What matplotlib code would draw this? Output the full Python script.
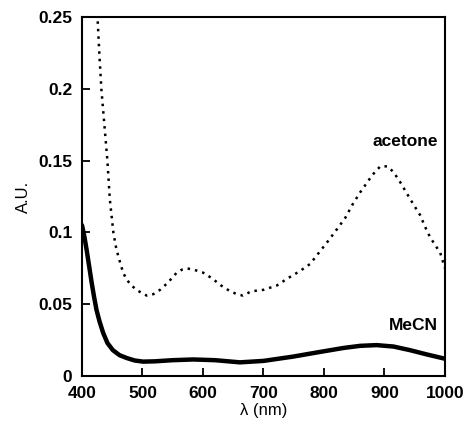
import matplotlib
matplotlib.use("Agg")
import matplotlib.pyplot as plt

plt.rcParams['font.family'] = ['Liberation Sans', 'DejaVu Sans']

# acetone spectrum (dotted)
acetone_x = [426, 429, 432, 437, 442, 446, 452, 457, 463, 468, 474, 482, 490, 498, 507, 518,
             529, 542, 556, 565, 573, 585, 600, 615, 630, 645, 656, 666, 680, 700, 722, 740,
             760, 777, 790, 805, 821, 835, 848, 860, 870, 880, 893, 905, 915, 926,
             940, 950, 959, 967, 975, 984, 992, 1000]
acetone_y = [0.247, 0.222, 0.200, 0.175, 0.150, 0.123, 0.0995, 0.088, 0.079, 0.072, 0.067,
             0.063, 0.060, 0.058, 0.056, 0.057, 0.060, 0.065, 0.0717, 0.074, 0.075, 0.074,
             0.072, 0.068, 0.063, 0.059, 0.057, 0.056, 0.059, 0.060, 0.063, 0.068, 0.073,
             0.078, 0.085, 0.093, 0.102, 0.110, 0.120, 0.128, 0.134, 0.140, 0.146, 0.146,
             0.142, 0.135, 0.125, 0.118, 0.112, 0.104, 0.097, 0.091, 0.086, 0.075]

# MeCN spectrum (solid)
mecn_x = [400, 404, 408, 412, 416, 420, 424, 429, 435, 442, 451, 462, 474, 487, 501,
          520, 550, 584, 620, 661, 700, 749, 790, 832, 860, 887, 915, 942, 970, 1000]
mecn_y = [0.105, 0.097, 0.087, 0.076, 0.065, 0.055, 0.046, 0.038, 0.030, 0.023, 0.018,
          0.0145, 0.0125, 0.0108, 0.0100, 0.0102, 0.011, 0.0115, 0.011, 0.0095,
          0.0105, 0.0135, 0.0165, 0.0195, 0.021, 0.0215, 0.0205, 0.018, 0.015, 0.012]

x_ticks = [400, 500, 600, 700, 800, 900, 1000]
y_ticks = [0, 0.05, 0.1, 0.15, 0.2, 0.25]
y_tick_labels = ['0', '0.05', '0.1', '0.15', '0.2', '0.25']

fig = plt.figure(figsize=(4.64, 4.38), dpi=100)
ax = fig.add_axes([0.1767, 0.1416, 0.7823, 0.8195])

ax.plot(mecn_x, mecn_y, color='black', linewidth=3.2, solid_capstyle='round',
        solid_joinstyle='round')
ax.plot(acetone_x, acetone_y, color='black', linewidth=1.8, linestyle=(0, (1, 2)))

ax.set_xlim(400, 1000)
ax.set_ylim(0, 0.25)
ax.set_xticks(x_ticks)
ax.set_yticks(y_ticks)
ax.set_yticklabels(y_tick_labels)
ax.tick_params(direction='in', length=6, width=1.3, labelsize=12.5, pad=7)
for lab in ax.get_xticklabels() + ax.get_yticklabels():
    lab.set_fontweight('bold')
for s in ax.spines.values():
    s.set_linewidth(1.5)

ax.set_xlabel('λ (nm)', fontsize=12, labelpad=2)
ax.set_ylabel('A.U.', fontsize=12, labelpad=5)

ax.text(934, 0.163, 'acetone', fontsize=12.5, fontweight='bold', ha='center', va='center')
ax.text(947, 0.0355, 'MeCN', fontsize=12.5, fontweight='bold', ha='center', va='center')

fig.savefig('out.png', dpi=100)
